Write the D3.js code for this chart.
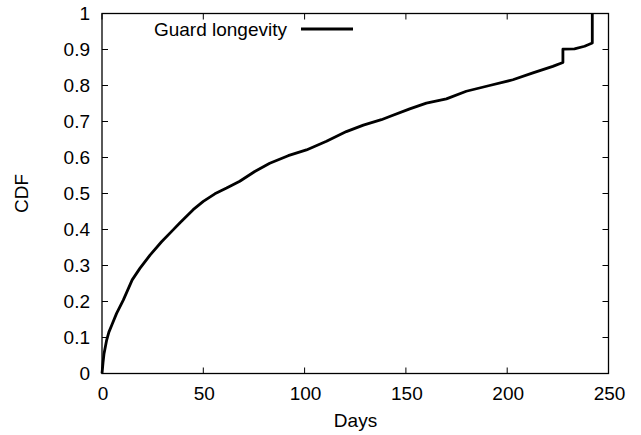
<!DOCTYPE html>
<html>
<head>
<meta charset="utf-8">
<script src="https://cdn.jsdelivr.net/npm/d3@7"></script>
<style>
html,body{margin:0;padding:0;background:#fff;}
svg{display:block;}
text{font-family:"Liberation Sans",Arial,Helvetica,sans-serif;fill:#000;}
</style>
</head>
<body>
<svg id="chart" width="641" height="435"></svg>
<script>
// Data
const days = [0, 0.5, 1.0, 2.3, 3.4, 4.8, 7.2, 10.5, 14.9, 18.7, 23.7, 29.4, 35.1, 38.5, 45, 50, 55.7, 61.5, 68, 75.4, 82.8, 91.9, 100.9, 110.8, 120.6, 129, 137.9, 142, 151.9, 160.1, 170, 179.8, 191.3, 202.8, 212.7, 222.5, 227.5, 227.5, 233.2, 238.2, 242, 242];
const cdf  = [0, 0.03, 0.055, 0.093, 0.115, 0.134, 0.167, 0.204, 0.26, 0.292, 0.329, 0.366, 0.399, 0.419, 0.455, 0.478, 0.499, 0.515, 0.534, 0.561, 0.584, 0.605, 0.621, 0.645, 0.672, 0.69, 0.705, 0.714, 0.735, 0.751, 0.763, 0.784, 0.8, 0.816, 0.835, 0.853, 0.864, 0.901, 0.902, 0.909, 0.918, 1.0];
const xTicks = [0, 50, 100, 150, 200, 250];
const yTicks = [0, 0.1, 0.2, 0.3, 0.4, 0.5, 0.6, 0.7, 0.8, 0.9, 1];
const seriesName = "Guard longevity";
const xLabel = "Days";
const yLabel = "CDF";

const svg = d3.select("#chart");
const L = 102, R = 608.5, T = 13.5, B = 373.5;
const x = d3.scaleLinear().domain([0, 250]).range([L, R]);
const y = d3.scaleLinear().domain([0, 1]).range([B, T]);
const fs = "19px";
const tickLen = 6;

// ticks (mirrored, inward)
const tg = svg.append("g").attr("stroke", "#000").attr("stroke-width", 1);
xTicks.forEach(t => {
  tg.append("line").attr("x1", x(t)).attr("x2", x(t)).attr("y1", B).attr("y2", B - tickLen);
  tg.append("line").attr("x1", x(t)).attr("x2", x(t)).attr("y1", T).attr("y2", T + tickLen);
});
yTicks.forEach(t => {
  tg.append("line").attr("x1", L).attr("x2", L + tickLen).attr("y1", y(t)).attr("y2", y(t));
  tg.append("line").attr("x1", R).attr("x2", R - tickLen).attr("y1", y(t)).attr("y2", y(t));
});

// tick labels
svg.append("g").selectAll("text").data(xTicks).join("text")
  .attr("x", d => x(d) + 1).attr("y", B + 26.5)
  .attr("text-anchor", "middle").style("font-size", fs)
  .text(d => d);
svg.append("g").selectAll("text").data(yTicks).join("text")
  .attr("x", L - 12).attr("y", d => y(d))
  .attr("dy", "0.36em")
  .attr("text-anchor", "end").style("font-size", fs)
  .text(d => d3.format("~g")(d));

// axis titles
svg.append("text").attr("x", 355.5).attr("y", 426.5)
  .attr("text-anchor", "middle").style("font-size", fs).text(xLabel);
svg.append("text").attr("transform", "translate(28,193.5) rotate(-90)")
  .attr("text-anchor", "middle").style("font-size", fs).text(yLabel);

// curve
const pts = days.map((d, i) => [d, cdf[i]]);
const line = d3.line().x(d => x(d[0])).y(d => y(d[1]));
svg.append("path").datum(pts).attr("d", line)
  .attr("fill", "none").attr("stroke", "#000").attr("stroke-width", 2.8)
  .attr("stroke-linejoin", "round");

// border
svg.append("rect").attr("x", L).attr("y", T).attr("width", R - L).attr("height", B - T)
  .attr("fill", "none").attr("stroke", "#000").attr("stroke-width", 1.3);

// legend
svg.append("text").attr("x", 287).attr("y", 36)
  .attr("text-anchor", "end").style("font-size", fs).text(seriesName);
svg.append("line").attr("x1", 301).attr("x2", 353).attr("y1", 29).attr("y2", 29)
  .attr("stroke", "#000").attr("stroke-width", 2.8);
</script>
</body>
</html>
